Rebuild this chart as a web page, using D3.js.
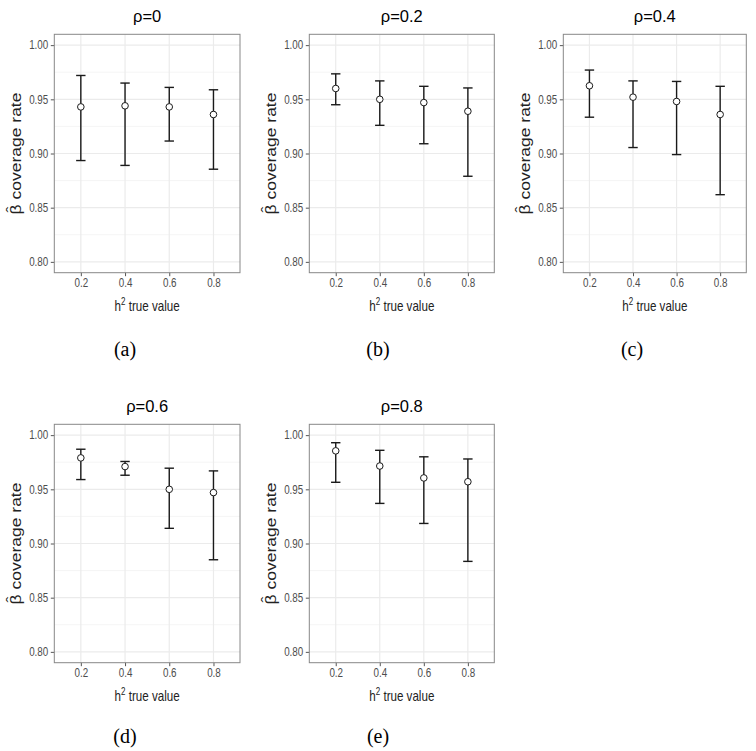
<!DOCTYPE html>
<html>
<head>
<meta charset="utf-8">
<title>coverage rate</title>
<script src="https://d3js.org/d3.v7.min.js"></script>
<style>
  body { margin: 0; background: #fff; }
  text { font-family: "Liberation Sans", Arial, sans-serif; }
</style>
</head>
<body>
<div id="chart"></div>
<script>

// values
const rhoLabels = ["ρ=0", "ρ=0.2", "ρ=0.4", "ρ=0.6", "ρ=0.8"];
const captions  = ["(a)", "(b)", "(c)", "(d)", "(e)"];
const hLevels   = ["0.2", "0.4", "0.6", "0.8"];
const yTicks    = [0.80, 0.85, 0.90, 0.95, 1.00];
const yMinor    = [0.825, 0.875, 0.925, 0.975];

const est = [
  [0.943, 0.944, 0.943, 0.936],
  [0.960, 0.950, 0.947, 0.939],
  [0.9625, 0.952, 0.948, 0.936],
  [0.979, 0.971, 0.950, 0.947],
  [0.9855, 0.9715, 0.9605, 0.957]
];
const lower = [
  [0.8935, 0.889, 0.9115, 0.8855],
  [0.945, 0.926, 0.909, 0.879],
  [0.9335, 0.9055, 0.899, 0.862],
  [0.959, 0.963, 0.914, 0.885],
  [0.9565, 0.937, 0.9185, 0.8835]
];
const upper = [
  [0.972, 0.965, 0.961, 0.9588],
  [0.9735, 0.967, 0.962, 0.9605],
  [0.977, 0.967, 0.9665, 0.962],
  [0.987, 0.9757, 0.9695, 0.967],
  [0.993, 0.986, 0.980, 0.978]
];

// panel boxes [left, top, right, bottom]
const panels = [
  [54.3, 34.3, 240, 272.7],
  [309.3, 34.3, 494.3, 272.7],
  [563.3, 34.3, 746.3, 272.7],
  [54.3, 424.3, 240, 662.7],
  [309.3, 424.3, 494.3, 662.7]
];
const captionX = [125, 378, 632, 125, 378];
const captionY = [356, 356, 356, 743, 743];

const svg = d3.select("#chart").append("svg")
    .attr("width", 756)
    .attr("height", 751);

svg.append("rect").attr("width", 756).attr("height", 751).attr("fill", "#fff");

const squeeze = 0.82;

function drawPanel(i) {
  const [l, t, r, b] = panels[i];
  const g = svg.append("g");

  const x = d3.scalePoint().domain(hLevels).range([l, r]).padding(0.6);
  const y = d3.scaleLinear().domain([0.79, 1.01]).range([b, t]);

  // grid
  g.selectAll(".minor").data(yMinor).join("line")
      .attr("x1", l).attr("x2", r)
      .attr("y1", d => y(d)).attr("y2", d => y(d))
      .attr("stroke", "#f2f2f2").attr("stroke-width", 0.8);
  g.selectAll(".majorY").data(yTicks).join("line")
      .attr("x1", l).attr("x2", r)
      .attr("y1", d => y(d)).attr("y2", d => y(d))
      .attr("stroke", "#ebebeb").attr("stroke-width", 1.2);
  g.selectAll(".majorX").data(hLevels).join("line")
      .attr("x1", d => x(d)).attr("x2", d => x(d))
      .attr("y1", t).attr("y2", b)
      .attr("stroke", "#ebebeb").attr("stroke-width", 1.2);

  // axes
  const ya = g.append("g").attr("transform", `translate(${l},0)`)
      .call(d3.axisLeft(y).tickValues(yTicks).tickFormat(d3.format(".2f")).tickSize(3.5).tickPadding(2.5));
  const xa = g.append("g").attr("transform", `translate(0,${b})`)
      .call(d3.axisBottom(x).tickSize(3.5).tickPadding(2.5));
  [ya, xa].forEach(a => {
    a.select(".domain").remove();
    a.selectAll(".tick line").attr("stroke", "#555");
    a.selectAll(".tick text")
        .attr("fill", "#4d4d4d")
        .style("font-size", "12px")
        .style("font-family", '"Liberation Sans", Arial, sans-serif');
  });
  ya.selectAll(".tick text").attr("x", -6 / squeeze).attr("transform", `scale(${squeeze},1)`);
  xa.selectAll(".tick text").attr("transform", `scale(${squeeze},1)`);

  // panel border
  g.append("rect")
      .attr("x", l).attr("y", t)
      .attr("width", r - l).attr("height", b - t)
      .attr("fill", "none").attr("stroke", "#888").attr("stroke-width", 1);

  // error bars
  const rows = hLevels.map((h, j) => ({ h, est: est[i][j], lo: lower[i][j], hi: upper[i][j] }));
  const cap = 4.7;
  const bars = g.selectAll(".bar").data(rows).join("g");
  bars.append("line")
      .attr("x1", d => x(d.h)).attr("x2", d => x(d.h))
      .attr("y1", d => y(d.lo)).attr("y2", d => y(d.hi))
      .attr("stroke", "#1a1a1a").attr("stroke-width", 1.4);
  bars.append("line")
      .attr("x1", d => x(d.h) - cap).attr("x2", d => x(d.h) + cap)
      .attr("y1", d => y(d.hi)).attr("y2", d => y(d.hi))
      .attr("stroke", "#1a1a1a").attr("stroke-width", 1.4);
  bars.append("line")
      .attr("x1", d => x(d.h) - cap).attr("x2", d => x(d.h) + cap)
      .attr("y1", d => y(d.lo)).attr("y2", d => y(d.lo))
      .attr("stroke", "#1a1a1a").attr("stroke-width", 1.4);
  bars.append("circle")
      .attr("cx", d => x(d.h)).attr("cy", d => y(d.est))
      .attr("r", 3.3)
      .attr("fill", "#fff").attr("stroke", "#1a1a1a").attr("stroke-width", 1);

  // title
  g.append("text")
      .attr("x", (l + r) / 2).attr("y", t - 12.5)
      .attr("text-anchor", "middle")
      .style("font-size", "16.5px")
      .text(rhoLabels[i]);

  // y axis title, hat drawn over the beta
  const yt = g.append("text")
      .attr("transform", `translate(${l - 33},${(t + b) / 2}) rotate(-90) scale(1,0.8)`)
      .attr("text-anchor", "middle")
      .attr("fill", "#222")
      .style("font-size", "17.5px");
  yt.append("tspan").text("β");
  yt.append("tspan").attr("dx", "-0.47em").attr("dy", "-0.3em").text("ˆ");
  yt.append("tspan").attr("dx", "0.14em").attr("dy", "0.3em").text(" coverage rate");

  // x axis title
  const xt = g.append("text")
      .attr("transform", `translate(${(l + r) / 2},${b + 38.5}) scale(0.8,1)`)
      .attr("text-anchor", "middle")
      .attr("fill", "#222")
      .style("font-size", "14.5px");
  xt.append("tspan").text("h");
  xt.append("tspan").attr("dy", -6).style("font-size", "10px").text("2");
  xt.append("tspan").attr("dy", 6).text(" true value");

  // sub caption
  g.append("text")
      .attr("x", captionX[i]).attr("y", captionY[i])
      .attr("text-anchor", "middle")
      .style("font-family", '"Liberation Serif", "DejaVu Serif", serif')
      .style("font-size", "20px")
      .text(captions[i]);
}

rhoLabels.forEach((d, i) => drawPanel(i));

</script>
</body>
</html>
